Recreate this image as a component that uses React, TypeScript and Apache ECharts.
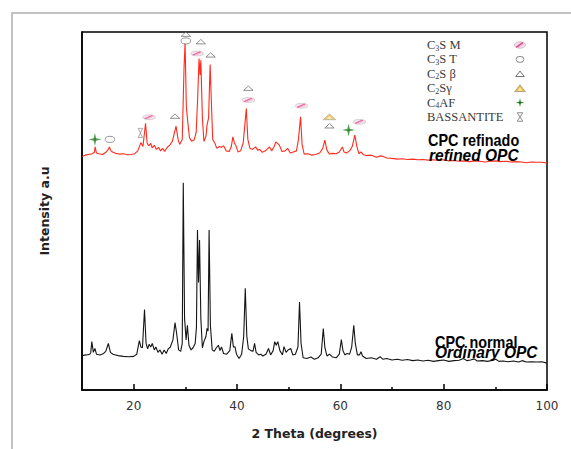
import React, { useEffect, useRef } from "react";
import * as echarts from "echarts";

// ---------- data (2θ in degrees, intensity in arbitrary units) ----------
const xTickLabels = [20, 40, 60, 80, 100];
const xMinorTicks = [30, 50, 70, 90];

const ordinaryOPC: [number, number][] = [
  [10.0, 96], [10.8, 98], [11.5, 100], [11.7, 105], [11.9, 135], [12.2, 105], [12.5, 116], [12.8, 100],
  [13.5, 98], [14.2, 102], [14.6, 108], [15.1, 130], [15.5, 105], [16.0, 100], [16.5, 98], [17.0, 96],
  [18.0, 94], [19.0, 93], [20.0, 94], [20.6, 100], [21.1, 138], [21.4, 120], [21.7, 118], [22.1, 225],
  [22.4, 130], [22.7, 115], [23.0, 128], [23.3, 120], [23.6, 130], [24.0, 112], [24.3, 120], [24.7, 105],
  [25.1, 112], [25.5, 100], [25.9, 112], [26.3, 102], [26.7, 115], [27.1, 120], [27.6, 140], [28.0, 188],
  [28.3, 160], [28.7, 112], [29.1, 108], [29.4, 130], [29.6, 579], [29.85, 200], [30.15, 140], [30.4, 181],
  [30.7, 125], [31.1, 112], [31.5, 118], [31.9, 130], [32.15, 175], [32.35, 447], [32.55, 300], [32.75, 419],
  [33.0, 200], [33.3, 118], [33.6, 135], [34.0, 150], [34.2, 172], [34.4, 165], [34.6, 447], [34.85, 180],
  [35.2, 112], [35.6, 108], [36.0, 118], [36.4, 125], [36.7, 110], [37.0, 120], [37.4, 102], [38.0, 100],
  [38.6, 110], [39.0, 158], [39.3, 120], [39.6, 121], [39.9, 100], [40.4, 88], [40.9, 100], [41.3, 150],
  [41.6, 284], [41.9, 150], [42.2, 115], [42.7, 110], [43.1, 108], [43.4, 130], [43.7, 105], [44.2, 98],
  [44.6, 100], [45.0, 95], [45.6, 100], [46.1, 116], [46.5, 98], [47.0, 110], [47.3, 135], [47.6, 125],
  [47.9, 135], [48.3, 110], [48.8, 98], [49.1, 121], [49.5, 105], [49.9, 112], [50.4, 116], [50.8, 98],
  [51.3, 100], [51.8, 120], [52.1, 246], [52.4, 130], [52.8, 90], [53.5, 88], [54.3, 92], [55.0, 86],
  [55.7, 90], [56.3, 100], [56.7, 172], [57.0, 120], [57.4, 95], [57.9, 100], [58.5, 92], [59.2, 90],
  [59.8, 100], [60.2, 141], [60.5, 110], [60.9, 98], [61.3, 102], [61.8, 100], [62.2, 120], [62.6, 181],
  [62.9, 130], [63.3, 98], [63.7, 98], [64.0, 107], [64.3, 95], [65.0, 88], [66.0, 90], [67.0, 86],
  [67.7, 93], [68.2, 86], [69.0, 88], [70.0, 84], [71.0, 86], [72.0, 83], [73.0, 85], [74.0, 82],
  [75.0, 84], [76.0, 81], [77.0, 83], [78.0, 80], [79.0, 82], [80.0, 84], [81.0, 80], [82.0, 82],
  [83.0, 83], [83.8, 88], [84.5, 82], [85.2, 84], [85.9, 87], [86.5, 81], [87.5, 82], [88.5, 80],
  [89.5, 83], [90.1, 86], [90.7, 80], [91.5, 81], [92.5, 79], [93.5, 81], [94.5, 78], [95.2, 82],
  [96.0, 78], [97.0, 79], [98.0, 78], [99.0, 79], [100.0, 75],
];

const refinedOPC: [number, number][] = [
  [10.0, 652], [10.6, 656], [11.3, 658], [12.0, 660], [12.4, 664], [12.55, 679], [12.8, 662], [13.3, 660],
  [14.0, 658], [14.6, 664], [15.0, 670], [15.3, 679], [15.6, 668], [16.0, 664], [16.5, 661], [17.2, 659],
  [18.0, 660], [18.8, 657], [19.5, 658], [20.2, 660], [20.8, 668], [21.4, 691], [21.8, 680], [22.3, 745],
  [22.6, 690], [22.9, 682], [23.3, 689], [23.6, 676], [24.0, 684], [24.4, 672], [24.8, 678], [25.2, 668],
  [25.6, 675], [26.0, 666], [26.5, 678], [27.0, 684], [27.5, 695], [28.2, 737], [28.6, 700], [28.9, 686],
  [29.4, 700], [29.75, 900], [29.95, 970], [30.2, 790], [30.5, 745], [30.8, 705], [31.2, 695], [31.7, 698],
  [32.1, 720], [32.4, 820], [32.65, 926], [32.85, 880], [33.0, 921], [33.3, 760], [33.6, 694], [34.0, 710],
  [34.2, 740], [34.5, 760], [34.8, 909], [35.1, 780], [35.3, 700], [35.7, 690], [36.1, 675], [36.6, 680],
  [37.0, 678], [37.4, 682], [37.9, 668], [38.5, 666], [38.9, 680], [39.2, 707], [39.5, 690], [39.8, 682],
  [40.2, 665], [40.7, 668], [41.2, 690], [41.8, 786], [42.1, 700], [42.5, 675], [43.0, 672], [43.6, 679],
  [44.0, 670], [44.4, 672], [44.9, 664], [45.5, 668], [46.3, 679], [46.7, 668], [47.2, 680], [47.5, 693],
  [47.9, 688], [48.2, 684], [48.7, 666], [49.3, 668], [49.8, 675], [50.3, 662], [50.9, 665], [51.5, 668],
  [51.9, 700], [52.3, 763], [52.6, 685], [53.0, 659], [53.8, 660], [54.5, 656], [55.2, 658], [56.0, 662],
  [56.6, 675], [57.0, 698], [57.4, 670], [57.9, 659], [58.5, 661], [59.2, 660], [59.8, 665], [60.1, 672],
  [60.4, 679], [60.7, 665], [61.2, 662], [61.8, 668], [62.3, 680], [62.8, 712], [63.2, 680], [63.6, 660],
  [64.0, 665], [64.4, 658], [65.0, 655], [66.0, 656], [67.0, 650], [67.8, 654], [68.3, 652], [69.0, 648],
  [70.0, 647], [71.0, 645], [72.0, 646], [73.0, 644], [74.0, 645], [75.0, 643], [76.0, 644], [77.0, 642],
  [78.0, 643], [79.0, 641], [80.0, 643], [81.0, 640], [82.0, 641], [83.0, 639], [84.0, 640], [85.0, 638],
  [86.0, 640], [87.0, 639], [88.0, 637], [89.0, 639], [90.0, 640], [91.0, 638], [92.0, 639], [93.0, 637],
  [94.0, 638], [95.0, 637], [96.0, 635], [97.0, 637], [98.0, 636], [99.0, 636], [100.0, 634],
];

// phase markers placed above the refined-OPC peaks
const c3sMMarks: [number, number][] = [[23.0, 762], [32.3, 940], [42.2, 810], [52.5, 794], [63.7, 749]];
const c3sTMarks: [number, number][] = [[15.4, 700], [30.1, 975]];
const c2sBetaMarks: [number, number][] = [[28.0, 765], [30.1, 994], [33.0, 973], [34.9, 936], [42.2, 843], [57.9, 738]];
const c2sGammaMarks: [number, number][] = [[57.9, 763]];
const c4afMarks: [number, number][] = [[12.5, 700], [61.6, 726]];
const bassaniteMarks: [number, number][] = [[21.3, 718]];

// legend entries: [main, subscript, rest]
const legendLabels: [string, string, string][] = [
  ["C", "3", "S M"],
  ["C", "3", "S T"],
  ["C", "2", "S \u03b2"],
  ["C", "2", "S\u03b3"],
  ["C", "4", "AF"],
  ["BASSANTITE", "", ""],
];

// ---------- symbol artwork ----------
const uri = (s: string) => "data:image/svg+xml;charset=utf-8," + encodeURIComponent(s);
const SVG = (w: number, h: number, body: string) =>
  `<svg xmlns='http://www.w3.org/2000/svg' width='${w}' height='${h}' viewBox='0 0 ${w} ${h}'>${body}</svg>`;

const symC3SM = uri(SVG(26, 16,
  "<ellipse cx='13' cy='8' rx='12' ry='7' fill='#fbe1ed' stroke='#aaaaaa' stroke-width='1.3'/>" +
  "<path d='M6 12 L18 3.5' stroke='#e04a8c' stroke-width='3.6' stroke-linecap='round'/>" +
  "<path d='M10 13 L21 5.5' stroke='#f29bc2' stroke-width='2' stroke-linecap='round'/>"));
const symC3ST = uri(SVG(20, 16, "<ellipse cx='10' cy='8' rx='8.8' ry='6.8' fill='#ffffff' stroke='#5e5e5e' stroke-width='1.6'/>"));
const symC2SB = uri(SVG(20, 14, "<polygon points='1.5,12.5 10,1.5 18.5,12.5' fill='#ffffff' stroke='#4a4a4a' stroke-width='1.6' stroke-linejoin='round'/>"));
const symC2SG = uri(SVG(26, 18,
  "<polygon points='1.5,16.5 13,1.5 24.5,16.5' fill='#f2bd3a' stroke='#8f8f8f' stroke-width='1.5' stroke-linejoin='round'/>" +
  "<polygon points='8,14 13,7.5 18,14' fill='#fdf1c9'/>"));
const symC4AF = uri(SVG(24, 24,
  "<path d='M12 0 L14.3 9.7 L24 12 L14.3 14.3 L12 24 L9.7 14.3 L0 12 L9.7 9.7 Z' fill='#2f8f2f'/>" +
  "<circle cx='12' cy='12' r='2.4' fill='#145a14'/>"));
const symBass = uri(SVG(14, 20,
  "<polygon points='1.5,1.5 12.5,1.5 7,10 12.5,18.5 1.5,18.5 7,10' fill='#ffffff' stroke='#5e5e5e' stroke-width='1.4' stroke-linejoin='round'/>"));

const legendIcons = [
  { img: symC3SM, w: 12, h: 8 },
  { img: symC3ST, w: 9, h: 8 },
  { img: symC2SB, w: 10, h: 7 },
  { img: symC2SG, w: 12, h: 9 },
  { img: symC4AF, w: 9, h: 10 },
  { img: symBass, w: 7, h: 10 },
];

export default function App() {
  const ref = useRef<HTMLDivElement>(null);

  useEffect(() => {
    if (!ref.current) return;
    const chart = echarts.init(ref.current, undefined, { renderer: "svg" });

    const markerSeries = (data: [number, number][], img: string, size: [number, number]) => ({
      type: "scatter",
      data,
      symbol: "image://" + img,
      symbolSize: size,
      silent: true,
      z: 5,
      clip: false,
    });

    const legendTop = 45;
    const legendStep = 14.4;
    const serif = "'Liberation Serif', 'Times New Roman', serif";
    const graphic: any[] = [
      { type: "line", shape: { x1: 12, y1: 13, x2: 12, y2: 449 }, style: { stroke: "#c2c2c2", lineWidth: 2 } },
      { type: "line", shape: { x1: 11, y1: 13, x2: 571, y2: 13 }, style: { stroke: "#c2c2c2", lineWidth: 2 } },
    ];
    legendLabels.forEach(([a, s, b], i) => {
      const text = s ? `{n|${a}}{s|${s}}{n|${b}}` : `{n|${a}}`;
      graphic.push({
        type: "text",
        x: 427,
        y: legendTop + i * legendStep,
        style: {
          text,
          fill: "#3a3a3a",
          font: `12.5px ${serif}`,
          align: "left",
          verticalAlign: "middle",
          textAlign: "left",
          textVerticalAlign: "middle",
          rich: {
            n: { fontFamily: serif, fontSize: 12.5, fill: "#3a3a3a", color: "#3a3a3a", lineHeight: 14 },
            s: { fontFamily: serif, fontSize: 8, fill: "#3a3a3a", color: "#3a3a3a", lineHeight: 14, padding: [6, 0, 0, 0] },
          },
        },
      });
      const ic = legendIcons[i];
      graphic.push({
        type: "image",
        style: {
          image: ic.img,
          x: 520 - ic.w / 2,
          y: legendTop + i * legendStep - ic.h / 2,
          width: ic.w,
          height: ic.h,
        },
      });
    });
    const sampleLabel = (text: string, x: number, y: number, italic: boolean, sx: number) => ({
      type: "text",
      x,
      y,
      scaleX: sx,
      z: 10,
      style: {
        text,
        fill: "#000",
        font: `${italic ? "italic " : ""}bold 16px 'Liberation Sans', Arial, sans-serif`,
        align: "left",
        verticalAlign: "middle",
        textAlign: "left",
        textVerticalAlign: "middle",
      },
    });
    graphic.push(sampleLabel("CPC refinado", 428, 140, false, 0.9));
    graphic.push(sampleLabel("refined OPC", 429, 155, true, 0.97));
    graphic.push(sampleLabel("CPC normal", 435, 342, false, 0.9));
    graphic.push(sampleLabel("Ordinary OPC", 435, 352, true, 0.97));

    chart.setOption({
      animation: false,
      backgroundColor: "#fff",
      grid: {
        left: 82,
        right: 24,
        top: 32,
        bottom: 59,
        show: true,
        borderColor: "#000",
        borderWidth: 1.5,
        backgroundColor: "transparent",
      },
      xAxis: [
        {
          type: "value",
          min: 10,
          max: 100,
          axisLine: { show: true, lineStyle: { color: "#000", width: 1.5 } },
          axisTick: { show: true, inside: true, length: 6, customValues: xTickLabels, lineStyle: { color: "#000", width: 1.5 } },
          axisLabel: { customValues: xTickLabels, margin: 10, color: "#333", fontFamily: "DejaVu Sans", fontSize: 12 },
          splitLine: { show: false },
          name: "2 Theta (degrees)",
          nameLocation: "middle",
          nameGap: 37,
          nameTextStyle: { fontFamily: "DejaVu Sans", fontWeight: "bold", fontSize: 12.5, color: "#222" },
        },
        {
          type: "value",
          min: 10,
          max: 100,
          position: "bottom",
          axisLine: { show: false },
          axisTick: { show: true, inside: true, length: 3, customValues: xMinorTicks, lineStyle: { color: "#000", width: 1.5 } },
          axisLabel: { show: false },
          splitLine: { show: false },
        },
      ],
      yAxis: {
        type: "value",
        min: 0,
        max: 1000,
        axisLine: { show: true, lineStyle: { color: "#000", width: 1.5 } },
        axisTick: { show: false },
        axisLabel: { show: false },
        splitLine: { show: false },
        name: "Intensity a.u",
        nameLocation: "middle",
        nameGap: 31,
        nameRotate: 90,
        nameTextStyle: { fontFamily: "DejaVu Sans", fontWeight: "bold", fontSize: 12.5, color: "#222" },
      },
      series: [
        {
          type: "line",
          data: ordinaryOPC,
          showSymbol: false,
          silent: true,
          lineStyle: { color: "#151515", width: 1.1 },
          z: 2,
        },
        {
          type: "line",
          data: refinedOPC,
          showSymbol: false,
          silent: true,
          lineStyle: { color: "#ff2b1c", width: 1.1 },
          z: 2,
        },
        markerSeries(c3sMMarks, symC3SM, [14, 9]),
        markerSeries(c3sTMarks, symC3ST, [11, 9]),
        markerSeries(c2sBetaMarks, symC2SB, [11, 8]),
        markerSeries(c2sGammaMarks, symC2SG, [14, 10]),
        markerSeries(c4afMarks, symC4AF, [13, 13]),
        markerSeries(bassaniteMarks, symBass, [8, 11]),
      ],
      graphic,
    });

    return () => chart.dispose();
  }, []);

  return (
    <div
      ref={ref}
      style={{ position: "absolute", left: 0, top: 0, width: 571, height: 449, background: "#fff" }}
    />
  );
}
